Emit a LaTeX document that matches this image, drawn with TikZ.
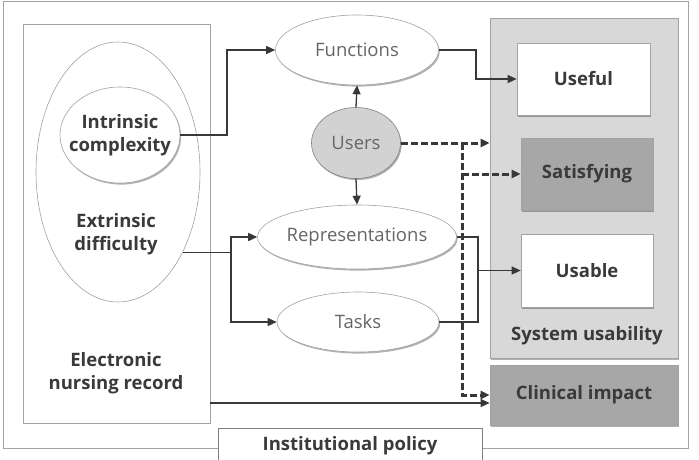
\documentclass[tikz,border=0pt]{standalone}
\usepackage{fontspec}
\setmainfont{Open Sans}
\usetikzlibrary{arrows.meta,shapes.geometric,shadows}
\definecolor{txt}{HTML}{3A3A3A}
\definecolor{ltxt}{HTML}{666666}
\definecolor{edg}{HTML}{A2A2A2}
\definecolor{lnk}{HTML}{383838}
\definecolor{panel}{HTML}{D8D8D8}
\definecolor{dark}{HTML}{A7A7A7}
\definecolor{ufill}{HTML}{D2D2D2}
\tikzset{
  shd/.style={drop shadow={shadow xshift=1.2pt, shadow yshift=-1.6pt, opacity=0.3, fill=black}},
  oval/.style={ellipse, draw=edg, line width=0.6pt, fill=white, inner sep=0pt},
  box/.style={rectangle, draw=edg, line width=0.7pt, fill=white, inner sep=0pt},
  conn/.style={-{Triangle[length=9pt,width=8pt]}, line width=1.3pt, lnk},
  lnkline/.style={line width=1.3pt, lnk},
  dconn/.style={-{Triangle[length=9pt,width=8pt]}, line width=3pt, lnk, dash pattern=on 7pt off 3pt},
  blab/.style={font=\fontsize{18.5}{23}\selectfont\bfseries, text=txt, align=center},
  rlab/.style={font=\fontsize{18.5}{23}\selectfont, text=ltxt, align=center},
}

\begin{document}
\begin{tikzpicture}[x=1pt,y=-1pt]
\useasboundingbox (0,0) rectangle (699,459);

% ============ frame and left block ===============
\draw[edg, line width=0.8pt] (3,1) rectangle (688,448);
\node[box, minimum width=187pt, minimum height=399pt] (enr) at (116.5,223.5) {};
\node[blab] (enrlab) at (116,373) {Electronic\\nursing record};
\node[oval, minimum width=164pt, minimum height=260pt] (extr) at (118,172) {};
\node[blab] (extrlab) at (116,234) {Extrinsic\\difficulty};
\node[oval, shd, minimum width=120pt, minimum height=96pt] (intr) at (120,135) {};
\node[blab] (intrlab) at (intr) {Intrinsic\\complexity};

% ============ middle column ===============
\node[oval, shd, minimum width=163pt, minimum height=70pt, rlab] (func) at (357,50) {Functions};
\node[oval, shd, fill=ufill, draw=gray, minimum width=89pt, minimum height=71pt, rlab] (users) at (356,143) {Users};
\node[oval, shd, minimum width=169pt, minimum height=64pt, rlab] (repr) at (357,237) {Representations};
\node[oval, shd, minimum width=162pt, minimum height=60pt, rlab] (tasks) at (358,322) {Tasks};

% ============ right column ===============
\node[box, shd, fill=panel, minimum width=188pt, minimum height=340pt] (sysbox) at (584,188) {};
\node[blab] (syslab) at (587,336) {System usability};
\node[box, shd, minimum width=133pt, minimum height=72pt, blab] (useful) at (583.5,79) {Useful};
\node[box, shd, fill=dark, minimum width=132pt, minimum height=72pt, blab] (satis) at (587,174) {Satisfying};
\node[box, shd, minimum width=132pt, minimum height=73pt, blab] (usable) at (587,270.5) {Usable};
\node[box, shd, fill=dark, minimum width=188pt, minimum height=60pt, blab] (clin) at (584,395) {Clinical impact};
\node[box, draw=gray, line width=0.8pt, minimum width=264pt, minimum height=36pt, blab] (inst) at (350,446) {Institutional policy};

% ============ connectors ===============
\coordinate (xfun) at (227,0);
\coordinate (xsplit) at (231,0);
\coordinate (xuse) at (476,0);
\coordinate (xusa) at (478,0);
\coordinate (xdash) at (462,0);
\draw[conn] (intr.east) -- (intr.east -| xfun) |- (func.west);
\draw[conn] (func.east) -- (func.east -| xuse) |- (useful.west);
\draw[conn] (users.north) -- (func.south);
\draw[conn] (users.south) -- (repr.north);
\draw[conn] (extr.-51) -- (extr.-51 -| xsplit) |- (repr.west);
\draw[conn] (extr.-51 -| xsplit) |- (tasks.west);
\draw[lnkline] (repr.east) -| (xusa |- tasks.east) -- (tasks.east);
\draw[conn] (xusa |- usable.west) -- (usable.west);
\draw[dconn] (users.east) -- (users.east -| sysbox.west);
\draw[dconn] (users.east -| xdash) |- (clin.west);
\draw[dconn] (xdash |- satis.west) -- (satis.west);
\draw[conn] ([yshift=-8pt]clin.west -| enr.east) -- ([yshift=-8pt]clin.west);

\end{tikzpicture}
\end{document}
